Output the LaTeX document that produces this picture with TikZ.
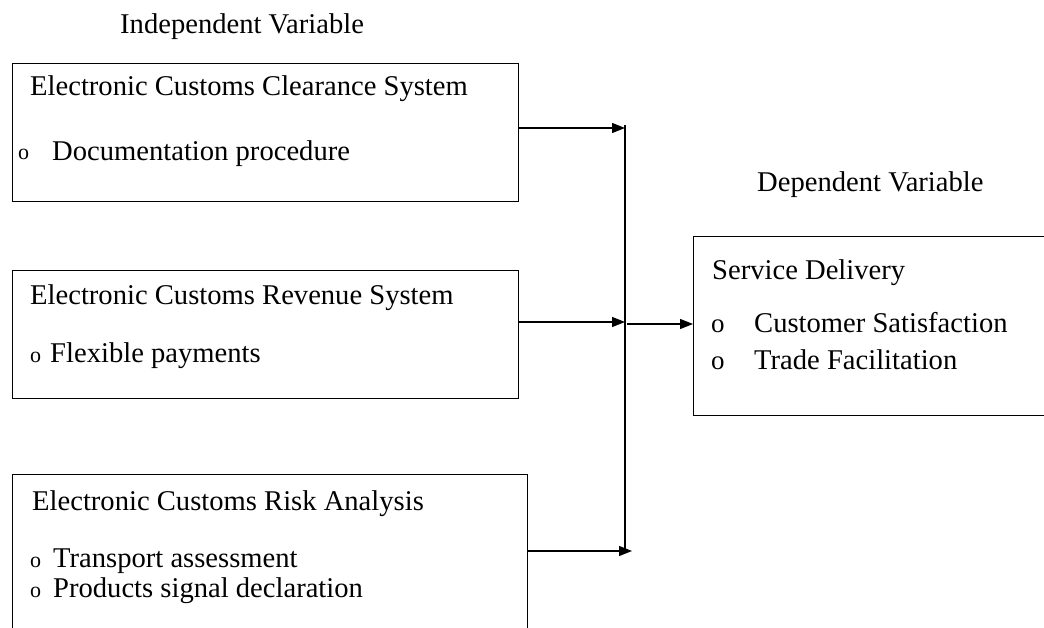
\documentclass[tikz,border=0pt]{standalone}
\usepackage{fontspec}
\setmainfont{Liberation Serif}
\usetikzlibrary{arrows.meta,positioning}
\begin{document}
\begin{tikzpicture}[x=1pt,y=-1pt,
  box/.style={draw,line width=1.1pt,rectangle,inner sep=0pt,anchor=north west},
  txt/.style={anchor=base west,inner sep=0pt,font=\fontsize{28.6}{34}\selectfont},
  bul/.style={anchor=base west,inner sep=0pt,font=\fontsize{22}{22}\selectfont},
  bulb/.style={anchor=base west,inner sep=0pt,font=\fontsize{27}{27}\selectfont},
  conn/.style={line width=1.1pt},
  arr/.style={line width=1.1pt,-{Triangle[length=13pt,width=10pt]}}]
\useasboundingbox (0,0) rectangle (1044,628);
\clip (0,0) rectangle (1044,628);
% headings
\node[txt] (iv) at (120,34) {Independent Variable};
\node[txt] (dv) at (757,192) {Dependent Variable};
% boxes
\node[box,minimum width=506pt,minimum height=138pt] (b1) at (12,63) {};
\node[box,minimum width=506pt,minimum height=128pt] (b2) at (12,270) {};
\node[box,minimum width=515pt,minimum height=200pt] (b3) at (12,474) {};
\node[box,minimum width=380pt,minimum height=179pt] (b4) at (693,236) {};
% box 1 text
\node[txt] (t1) at (30,96) {Electronic Customs Clearance System};
\node[bul] (o1) at (18,160) {o};
\node[txt] (t1a) at (52,161) {Documentation procedure};
% box 2 text
\node[txt] (t2) at (30,305) {Electronic Customs Revenue System};
\node[bul] (o2) at (30,362) {o};
\node[txt] (t2a) at (50,362) {Flexible payments};
% box 3 text
\node[txt] (t3) at (32,510) {Electronic Customs Risk Analysis};
\node[bul] (o3) at (30,567) {o};
\node[txt] (t3a) at (53,567) {Transport assessment};
\node[bul] (o4) at (30,597) {o};
\node[txt] (t3b) at (53,597) {Products signal declaration};
% box 4 text
\node[txt] (t4) at (712,280) {Service Delivery};
\node[bulb] (o5) at (711,333) {o};
\node[txt] (t4a) at (754,333) {Customer Satisfaction};
\node[bulb] (o6) at (711,369) {o};
\node[txt] (t4b) at (754,369) {Trade Facilitation};
% connectors
\coordinate (j1) at (625,128);
\coordinate (j2) at (625,322);
\coordinate (j3) at (632,551);
\coordinate (top) at (625,125);
\coordinate (bot) at (625,551);
\coordinate (out) at (627,324);
\draw[conn] (top) -- (bot);
\draw[arr] (b1.east |- j1) -- (j1);
\draw[arr] (b2.east |- j2) -- (j2);
\draw[arr] (b3.east |- j3) -- (j3);
\draw[arr] (out) -- (b4.west |- out);
\end{tikzpicture}
\end{document}
